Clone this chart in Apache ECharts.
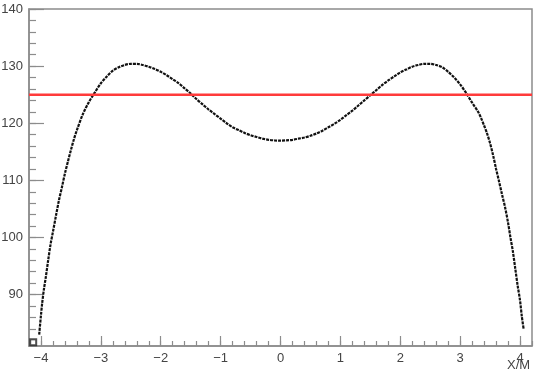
<!DOCTYPE html>
<html>
<head>
<meta charset="utf-8">
<script src="https://cdn.jsdelivr.net/npm/echarts@6/dist/echarts.min.js"></script>
<style>
  html, body { margin: 0; padding: 0; background: #fff; }
  #chart { width: 537px; height: 371px; }
</style>
</head>
<body>
<div id="chart"></div>
<script>
// curve points
const xVals = [
  -4.03, -4.00, -3.98, -3.95, -3.92, -3.88, -3.84, -3.80, -3.75, -3.70,
  -3.65, -3.60, -3.55, -3.50, -3.45, -3.40, -3.30, -3.20, -3.10, -3.00,
  -2.90, -2.80, -2.70, -2.60, -2.50, -2.40, -2.30, -2.20, -2.10, -2.00,
  -1.90, -1.80, -1.70, -1.60, -1.50, -1.40, -1.30, -1.20, -1.10, -1.00,
  -0.90, -0.80, -0.70, -0.60, -0.50, -0.40, -0.30, -0.20, -0.10, 0.00,
  0.10, 0.20, 0.30, 0.40, 0.50, 0.60, 0.70, 0.80, 0.90, 1.00,
  1.10, 1.20, 1.30, 1.40, 1.50, 1.60, 1.70, 1.80, 1.90, 2.00,
  2.10, 2.20, 2.30, 2.40, 2.50, 2.60, 2.70, 2.80, 2.90, 3.00,
  3.10, 3.20, 3.30, 3.35, 3.40, 3.45, 3.50, 3.55, 3.60, 3.65, 3.70,
  3.75, 3.80, 3.84, 3.88, 3.92, 3.96, 4.00, 4.03, 4.06
];
const yVals = [
  83.0, 86.4, 88.5, 91.0, 93.0, 96.0, 98.8, 101.0, 103.8, 106.5,
  108.8, 111.2, 113.3, 115.3, 117.2, 118.8, 121.6, 123.7, 125.4, 127.0,
  128.2, 129.2, 129.8, 130.2, 130.4, 130.4, 130.2, 129.9, 129.5, 129.0,
  128.4, 127.7, 127.0, 126.1, 125.2, 124.2, 123.3, 122.4, 121.6, 120.8,
  120.0, 119.3, 118.8, 118.3, 117.9, 117.6, 117.3, 117.1, 117.0, 116.95,
  117.0, 117.1, 117.3, 117.5, 117.8, 118.2, 118.7, 119.3, 119.9, 120.6,
  121.4, 122.2, 123.1, 124.0, 124.9, 125.8, 126.7, 127.5, 128.2, 128.9,
  129.4, 129.9, 130.2, 130.4, 130.4, 130.2, 129.8, 129.0, 128.0, 126.8,
  125.3, 123.6, 122.0, 120.9, 119.6, 118.2, 116.5, 114.4, 112.0, 109.8, 107.5,
  105.3, 102.6, 100.0, 97.6, 94.6, 91.6, 89.0, 86.2, 84.0
];
const refLevel = 125;
const cornerPoint = [[-4.13, 81.65]];

const xTicks = [-4, -3, -2, -1, 0, 1, 2, 3, 4];
const yTicks = [90, 100, 110, 120, 130, 140];
const xTitle = 'X/M';
const xMin = -4.2, xMax = 4.2;
const yMin = 81, yMax = 140;

var xMinor = [];
for (var i = -21; i <= 21; i++) xMinor.push(+(i * 0.2).toFixed(1));
var yMinor = [];
for (var j = 82; j <= 140; j += 2) yMinor.push(j);

var chartDom = document.getElementById('chart');
var myChart = echarts.init(chartDom, null, { renderer: 'canvas' });

var axisGray = '#8c8c8c';
var labelFont = { color: '#444', fontSize: 13, fontFamily: 'Liberation Sans' };
var minus = (v) => String(v).replace('-', '\u2212');

var option = {
    animation: false,
    grid: {
        left: 29, right: 5, top: 9, bottom: 25,
        containLabel: false, outerBoundsMode: 'none',
        show: true, borderColor: axisGray, borderWidth: 1.5
    },
    graphic: [
        {
            type: 'text', left: 507, top: 359,
            style: { text: xTitle, fill: '#444', font: '13px "Liberation Sans"' }
        }
    ],
    xAxis: [
        {
            type: 'value', min: xMin, max: xMax, position: 'bottom',
            axisLine: { show: true, onZero: false, lineStyle: { color: axisGray, width: 1.5 } },
            axisTick: { show: true, inside: true, length: 10, customValues: xTicks, lineStyle: { color: axisGray, width: 1.2 } },
            axisLabel: Object.assign({ customValues: xTicks, margin: 6, formatter: minus }, labelFont),
            splitLine: { show: false }
        },
        {
            type: 'value', min: xMin, max: xMax, position: 'bottom',
            axisLine: { show: false, onZero: false },
            axisTick: { show: true, inside: true, length: 5, customValues: xMinor, lineStyle: { color: axisGray, width: 1.2 } },
            axisLabel: { show: false },
            splitLine: { show: false }
        }
    ],
    yAxis: [
        {
            type: 'value', min: yMin, max: yMax, position: 'left',
            axisLine: { show: true, onZero: false, lineStyle: { color: axisGray, width: 1.5 } },
            axisTick: { show: true, inside: true, length: 15, customValues: yTicks, lineStyle: { color: axisGray, width: 1.2 } },
            axisLabel: Object.assign({ customValues: yTicks, margin: 6 }, labelFont),
            splitLine: { show: false }
        },
        {
            type: 'value', min: yMin, max: yMax, position: 'left',
            axisLine: { show: false, onZero: false },
            axisTick: { show: true, inside: true, length: 7, customValues: yMinor, lineStyle: { color: axisGray, width: 1.2 } },
            axisLabel: { show: false },
            splitLine: { show: false }
        }
    ],
    series: [
        {
            type: 'line',
            data: xVals.map((x, k) => [x, yVals[k]]),
            showSymbol: false,
            smooth: 0.3,
            clip: true,
            lineStyle: { color: '#111', width: 2.2, type: [3, 1] },
            z: 3
        },
        {
            type: 'line',
            data: [[xMin, refLevel], [xMax, refLevel]],
            showSymbol: false,
            lineStyle: { color: '#ff3b3b', width: 2.5 },
            z: 4
        },
        {
            type: 'scatter',
            data: cornerPoint,
            symbol: 'emptyRect',
            symbolSize: 6,
            itemStyle: { color: '#222', borderWidth: 1 },
            z: 5
        }
    ]
};

option && myChart.setOption(option);
</script>
</body>
</html>
